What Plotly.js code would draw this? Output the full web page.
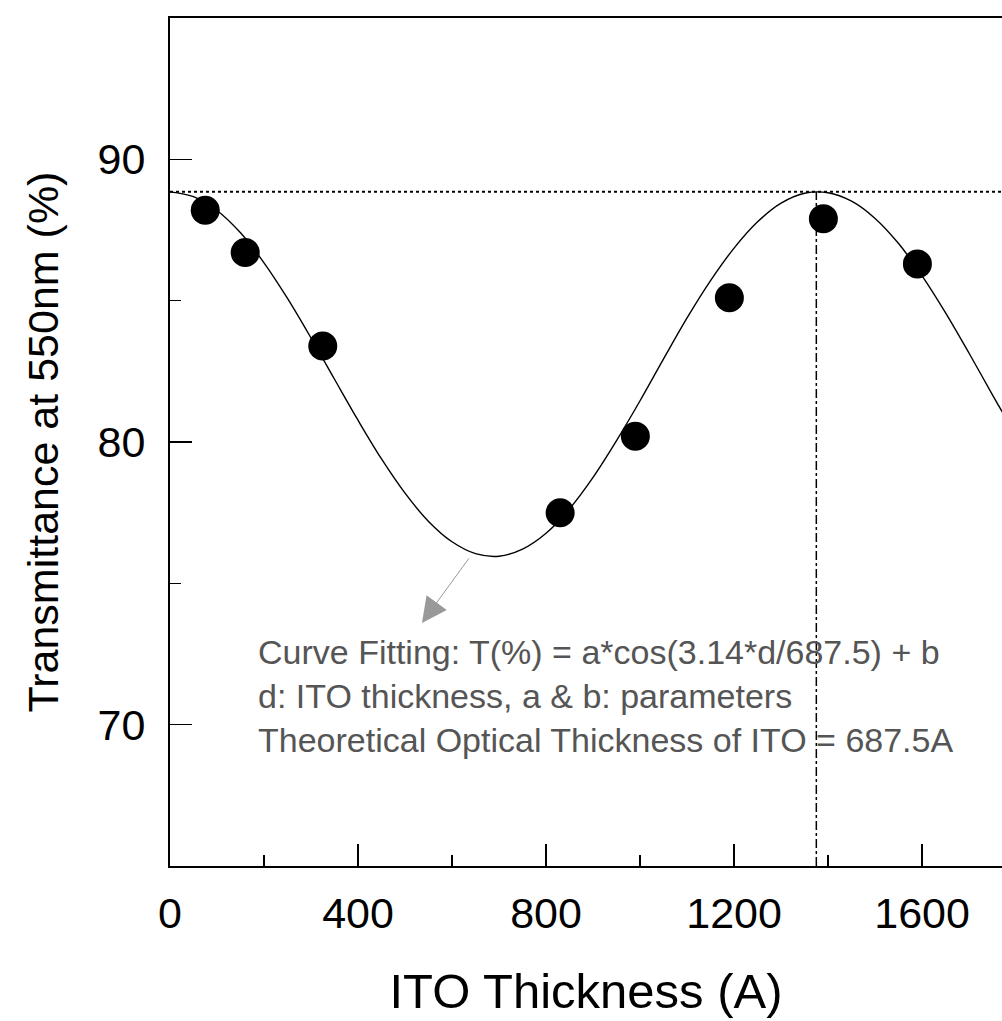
<!DOCTYPE html>
<html>
<head>
<meta charset="utf-8">
<script src="https://cdn.plot.ly/plotly-3.0.1.min.js"></script>
<style>html,body{margin:0;padding:0;background:#fff;}#chart{width:1002px;height:1021px;}</style>
</head>
<body>
<div id="chart"></div>
<script>
// Measured data points (ITO thickness in A, transmittance at 550nm in %)
const thickness = [75, 160, 325, 830, 990, 1190, 1390, 1590];
const transmittance = [88.2, 86.7, 83.4, 77.5, 80.2, 85.1, 87.9, 86.3];

// Fitted curve
const fitD = [0, 50, 100, 150, 200, 250, 300, 350, 400, 450, 500, 550, 600, 650, 700, 750, 800, 850, 900, 950, 1000, 1050, 1100, 1150, 1200, 1250, 1300, 1350, 1400, 1450, 1500, 1550, 1600, 1650, 1700, 1750, 1800];
const fitT = [88.85, 88.68, 88.19, 87.40, 86.34, 85.08, 83.68, 82.22, 80.77, 79.40, 78.19, 77.19, 76.47, 76.05, 75.96, 76.21, 76.77, 77.64, 78.75, 80.05, 81.46, 82.94, 84.39, 85.71, 86.86, 87.79, 88.45, 88.80, 88.82, 88.52, 87.91, 87.02, 85.88, 84.57, 83.14, 81.66, 80.22];

// Reference lines: maximum transmittance level and second maximum position
const maxLevelX = [0, 1800];
const maxLevelY = [88.85, 88.85];
const peakX = [1375, 1375];
const peakY = [65, 88.85];

// Axis ticks
const xTicks = [0, 400, 800, 1200, 1600];
const yTicks = [70, 80, 90];

const noteLines = [
  'Curve Fitting: T(%) = a*cos(3.14*d/687.5) + b',
  'd: ITO thickness, a &amp; b: parameters',
  'Theoretical Optical Thickness of ITO = 687.5A'
];

const FONT = 'Liberation Sans, Arial, sans-serif';

const traces = [
  {x: maxLevelX, y: maxLevelY, mode: 'lines', line: {color: '#000', width: 2, dash: 'dot'}, hoverinfo: 'skip'},
  {x: peakX, y: peakY, mode: 'lines', line: {color: '#000', width: 1.5, dash: 'dashdot'}, hoverinfo: 'skip'},
  {x: fitD, y: fitT, mode: 'lines', line: {color: '#000', width: 1.4, shape: 'spline'}},
  {x: thickness, y: transmittance, mode: 'markers', marker: {color: '#000', size: 29, symbol: 'circle'}}
];

const layout = {
  width: 1002, height: 1021,
  margin: {l: 170, r: 0, t: 18, b: 155},
  paper_bgcolor: '#fff', plot_bgcolor: '#fff',
  showlegend: false,
  font: {family: FONT, color: '#000'},
  xaxis: {
    range: [0, 1770],
    tickvals: xTicks, ticktext: xTicks.map(String),
    ticks: 'inside', ticklen: 22, tickwidth: 1.5, tickcolor: '#000',
    minor: {dtick: 200, tick0: 0, ticks: 'inside', ticklen: 11, tickwidth: 1.5, tickcolor: '#000'},
    showline: true, linewidth: 2, linecolor: '#000', mirror: true,
    showgrid: false, zeroline: false,
    tickfont: {size: 43, family: FONT, color: '#000'},
    ticklabelstandoff: 8,
    title: {text: 'ITO Thickness (A)', font: {size: 49, family: FONT, color: '#000'}, standoff: 38}
  },
  yaxis: {
    range: [65, 95],
    tickvals: yTicks, ticktext: yTicks.map(String),
    ticks: 'inside', ticklen: 22, tickwidth: 1.5, tickcolor: '#000',
    minor: {dtick: 5, tick0: 65, ticks: 'inside', ticklen: 11, tickwidth: 1.5, tickcolor: '#000'},
    showline: true, linewidth: 2, linecolor: '#000', mirror: false,
    showgrid: false, zeroline: false,
    tickfont: {size: 43, family: FONT, color: '#000'},
    ticklabelstandoff: 14,
    title: {text: 'Transmittance at 550nm (%)', font: {size: 43, family: FONT, color: '#000'}, standoff: 26}
  },
  annotations: [
    {
      x: 182, y: 73.3, xref: 'x', yref: 'y', xanchor: 'left', yanchor: 'top',
      text: noteLines.join('<br>'), align: 'left', showarrow: false,
      font: {size: 34, family: FONT, color: '#555'}
    },
    {
      x: 536, y: 73.6, xref: 'x', yref: 'y', text: '', showarrow: true,
      ax: 48, ay: -66, arrowhead: 2, arrowsize: 5, arrowwidth: 1, arrowcolor: '#999'
    }
  ]
};

Plotly.newPlot('chart', traces, layout, {displayModeBar: false, staticPlot: true});
</script>
</body>
</html>
